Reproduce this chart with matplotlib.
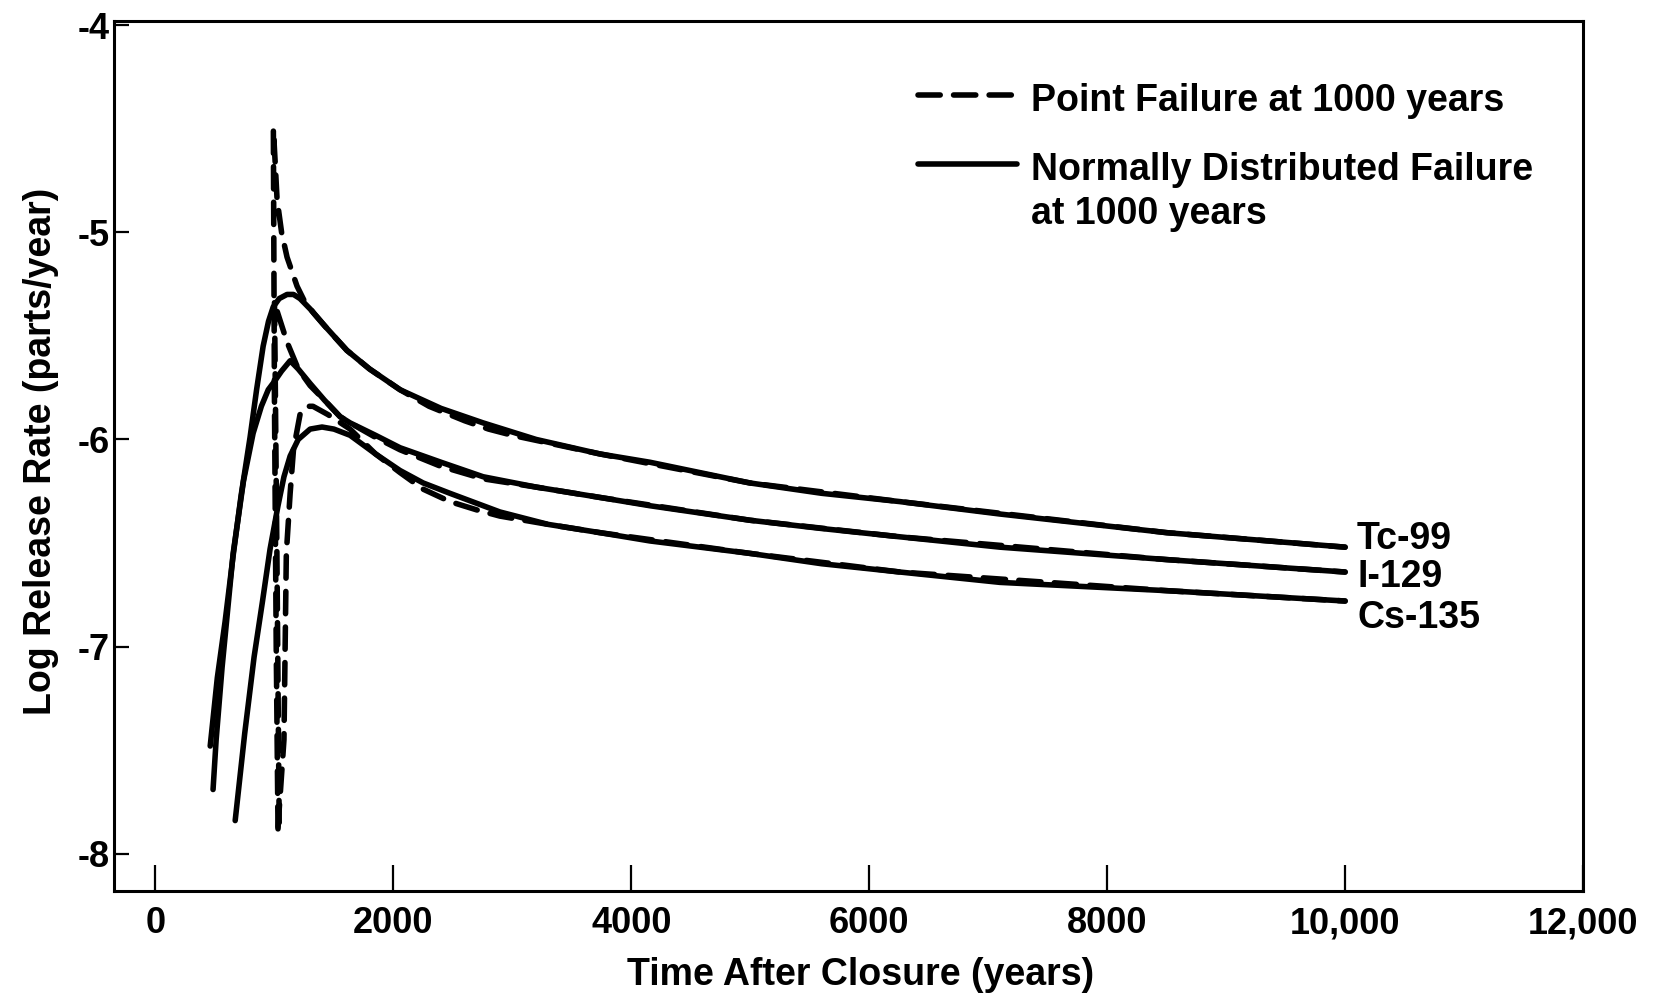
import matplotlib
matplotlib.use("Agg")
import matplotlib.pyplot as plt

plt.rcParams['font.family'] = ['Liberation Sans', 'DejaVu Sans']
plt.rcParams['font.weight'] = 'bold'

# ---------------- data (years, log release rate) ----------------
# Normally distributed failure (solid)
tc_norm_x = [460, 520, 585, 653, 720, 795, 850, 905, 950, 990, 1040, 1106, 1160, 1215,
             1300, 1420, 1609, 1800, 2056, 2400, 2754, 3200, 3736, 4156, 4996, 5600,
             6257, 7098, 8500, 10000]
tc_norm_y = [-7.48, -7.15, -6.88, -6.56, -6.27, -5.99, -5.76, -5.55, -5.43, -5.36, -5.32,
             -5.30, -5.30, -5.32, -5.37, -5.45, -5.57, -5.66, -5.76, -5.85, -5.92, -6.00,
             -6.07, -6.11, -6.21, -6.26, -6.30, -6.36, -6.45, -6.52]

i_norm_x = [484, 510, 560, 653, 740, 821, 890, 948, 1000, 1060, 1132, 1200, 1300, 1420,
            1552, 1636, 1850, 2056, 2400, 2754, 3200, 3736, 4156, 4996, 5600, 6257,
            7098, 8500, 10000]
i_norm_y = [-7.69, -7.45, -7.10, -6.55, -6.20, -5.97, -5.84, -5.76, -5.72, -5.67, -5.62,
            -5.66, -5.73, -5.81, -5.89, -5.92, -5.98, -6.04, -6.11, -6.18, -6.23, -6.28,
            -6.32, -6.39, -6.43, -6.47, -6.52, -6.58, -6.64]

cs_norm_x = [670, 750, 829, 900, 963, 1030, 1080, 1132, 1200, 1300, 1400, 1500, 1636,
             1850, 2056, 2250, 2475, 2895, 3300, 3736, 4156, 4996, 5600, 6257, 7098,
             8500, 10000]
cs_norm_y = [-7.84, -7.42, -7.05, -6.78, -6.53, -6.32, -6.18, -6.08, -6.00, -5.95, -5.94,
             -5.95, -5.98, -6.07, -6.15, -6.21, -6.26, -6.35, -6.41, -6.45, -6.49, -6.55,
             -6.60, -6.64, -6.69, -6.73, -6.78]

# Point failure at 1000 years (dashed)
tc_point_x = [1030, 1015, 1000, 991, 1005, 1022, 1060, 1106, 1190, 1250, 1330, 1450,
              1609, 1800, 2056, 2300, 2600, 2800, 3000, 3736, 4996, 6257, 8500, 10000]
tc_point_y = [-7.88, -7.00, -5.80, -4.50, -4.65, -4.84, -5.00, -5.12, -5.26, -5.33,
              -5.39, -5.47, -5.57, -5.66, -5.76, -5.84, -5.91, -5.95, -5.98, -6.07,
              -6.21, -6.30, -6.45, -6.52]

i_point_x = [1040, 1020, 1005, 1000, 1022, 1050, 1106, 1200, 1300, 1420, 1552, 1636,
             1850, 2056, 2400, 2754, 3200, 3736, 4996, 6257, 8500, 10000]
i_point_y = [-7.85, -6.50, -5.60, -5.33, -5.38, -5.43, -5.53, -5.66, -5.74, -5.81,
             -5.89, -5.92, -5.99, -6.05, -6.13, -6.19, -6.23, -6.28, -6.39, -6.47,
             -6.58, -6.64]

cs_point_x = [1030, 1080, 1090, 1100, 1132, 1160, 1215, 1270, 1324, 1450, 1636, 1850,
              2056, 2250, 2475, 2700, 2895, 3300, 3736, 4996, 6257, 8500, 10000]
cs_point_y = [-7.87, -7.45, -7.00, -6.55, -6.26, -6.05, -5.88, -5.84, -5.84, -5.88,
              -5.95, -6.07, -6.16, -6.24, -6.30, -6.34, -6.37, -6.41, -6.45, -6.55,
              -6.64, -6.73, -6.78]

nuclides = ['Tc-99', 'I-129', 'Cs-135']
label_y = [-6.53, -6.71, -6.91]
label_x = 10100

xticks = [0, 2000, 4000, 6000, 8000, 10000, 12000]
xticklabels = ['0', '2000', '4000', '6000', '8000', '10,000', '12,000']
yticks = [-8, -7, -6, -5, -4]
yticklabels = ['-8', '-7', '-6', '-5', '-4']

legend_labels = ['Point Failure at 1000 years', 'Normally Distributed Failure', 'at 1000 years']

# ---------------- figure ----------------
fig = plt.figure(figsize=(16.58, 9.96), dpi=100)
ax = fig.add_axes([0.0688, 0.1054, 0.886, 0.8735])

lw = 4.0
dash = (0, (4, 2.4))
for xs, ys in [(tc_norm_x, tc_norm_y), (i_norm_x, i_norm_y), (cs_norm_x, cs_norm_y)]:
    ax.plot(xs, ys, color='black', lw=lw, solid_capstyle='round', solid_joinstyle='round')
for xs, ys in [(tc_point_x, tc_point_y), (i_point_x, i_point_y), (cs_point_x, cs_point_y)]:
    ax.plot(xs, ys, color='black', lw=lw, linestyle=dash, dash_capstyle='round')

for name, yy in zip(nuclides, label_y):
    ax.text(label_x, yy, name, fontsize=27, fontweight='bold', ha='left', va='baseline')

# legend drawn manually
ax.plot([0.547, 0.615], [0.9149, 0.9149], transform=ax.transAxes, color='black', lw=lw,
        linestyle=dash, dash_capstyle='round', clip_on=False)
ax.plot([0.547, 0.615], [0.8356, 0.8356], transform=ax.transAxes, color='black', lw=lw,
        solid_capstyle='round', clip_on=False)
ax.text(0.624, 0.8971, legend_labels[0], transform=ax.transAxes, fontsize=27,
        fontweight='bold', ha='left', va='baseline')
ax.text(0.624, 0.8172, legend_labels[1], transform=ax.transAxes, fontsize=27,
        fontweight='bold', ha='left', va='baseline')
ax.text(0.624, 0.7667, legend_labels[2], transform=ax.transAxes, fontsize=27,
        fontweight='bold', ha='left', va='baseline')

ax.set_xlim(-348, 12000)
ax.set_ylim(-8.18, -3.98)
ax.set_xticks(xticks)
ax.set_xticklabels(xticklabels)
ax.set_yticks(yticks)
ax.set_yticklabels(yticklabels)
ax.tick_params(axis='x', direction='in', length=18.7, width=1.6, pad=11, labelsize=26)
ax.tick_params(axis='y', direction='in', length=11, width=1.6, pad=3, labelsize=26)
for s in ax.spines.values():
    s.set_linewidth(2.2)

ax.set_xlabel('Time After Closure (years)', fontsize=27, fontweight='bold')
ax.set_ylabel('Log Release Rate (parts/year)', fontsize=27, fontweight='bold')
ax.xaxis.set_label_coords(0.508, -0.076)
ax.yaxis.set_label_coords(-0.0378, 0.505)

fig.savefig('out.png', dpi=100, facecolor='white')
